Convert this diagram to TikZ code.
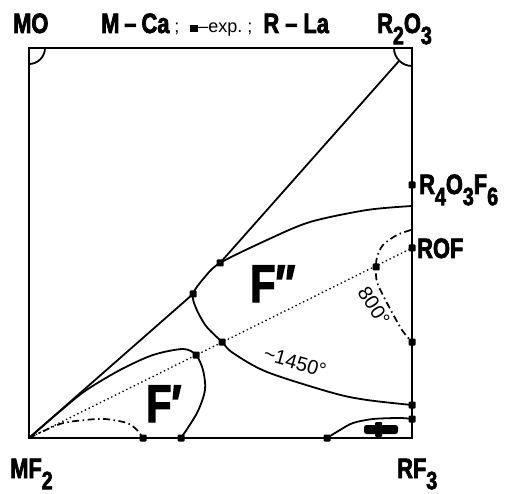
\documentclass[tikz,border=0pt]{standalone}
\usepackage{fontspec}
\newfontfamily\labfont[FakeStretch=0.78, BoldFeatures={FakeBold=2.5}]{Liberation Sans}
\newfontfamily\numfont{Liberation Sans}
\usetikzlibrary{positioning}
\newcommand\dn[1]{\raisebox{-0.4em}{\scalebox{0.9}{#1}}}

\begin{document}
\begin{tikzpicture}[
    x=1pt, y=-1pt,
    frame/.style={line width=2.3pt},
    bound/.style={line width=1.8pt},
    dashdot/.style={line width=1.7pt, dash pattern=on 7pt off 3.5pt on 1.5pt off 3.5pt},
    tie/.style={line width=1.9pt, line cap=round, dash pattern=on 0pt off 4.2pt},
    pt/.style={fill, rectangle, rounded corners=1pt, minimum size=7pt, inner sep=0pt},
    comp/.style={font=\fontsize{28}{28}\labfont\bfseries, inner sep=0pt, anchor=base west},
    phase/.style={font=\fontsize{53}{53}\labfont\bfseries, inner sep=0pt, anchor=base west},
    temp/.style={font=\fontsize{20}{20}\numfont, inner sep=0pt}
]
\useasboundingbox (0,0) rectangle (506,494);

\coordinate (mo) at (29,48);
\coordinate (r2o3) at (412,48);
\coordinate (rf3) at (412,438);
\coordinate (mf2) at (29,438);
\coordinate (cusp) at (399,61);
\coordinate (r4o3f6) at (412,185);
\coordinate (eup) at (412,206);
\coordinate (e800a) at (411,230);
\coordinate (rof) at (412,248);
\coordinate (e800) at (412,342);
\coordinate (e1450) at (412,405);
\coordinate (erf) at (412,419);
\coordinate (top) at (220,263);
\coordinate (tri) at (193,294);
\coordinate (mid) at (222,342);
\coordinate (fpk) at (196,355);
\coordinate (lo) at (376,267);
\coordinate (b1) at (143,438);
\coordinate (b2) at (181,438);
\coordinate (b3) at (327,438);

\draw[frame] (mo) rectangle (rf3);
\draw[bound] ([xshift=16pt]mo) arc[start angle=0, end angle=-90, radius=16pt];
\draw[bound] ([xshift=-18pt]r2o3) arc[start angle=180, end angle=270, radius=18pt];

\draw[bound] (mf2) -- (tri);
\draw[bound] (top) -- (cusp);
\draw[bound] plot[smooth] coordinates {(eup) (367,210) (310,222) (267,240) (top) (204,278) (tri) (196,308) (206,326) (mid) (233,353) (267,372) (333,393) (367,400) (e1450)};
\draw[bound] plot[smooth] coordinates {(mf2) (58,413) (85,391) (120,370) (153,355) (183,349) (fpk) (203,370) (205,390) (197,413) (b2)};
\draw[bound] plot[smooth] coordinates {(b3) (340,430) (353,423) (373,419) (400,418) (erf)};
\draw[dashdot] plot[smooth] coordinates {(mf2) (60,424) (85,420) (105,419) (127,423) (137,430) (b1)};
\draw[dashdot] plot[smooth] coordinates {(e800a) (397,235) (383,245) (377,257) (lo) (377,282) (387,303) (402,330) (e800)};
\draw[tie] (mf2) -- (rof);

\fill[rounded corners=2.5pt] (364,425) rectangle (398,434);
\fill[rounded corners=1pt] (375,422) rectangle (382,437);

\foreach \p in {r4o3f6, rof, top, tri, mid, fpk, lo, e800, e1450, erf, b1, b2, b3}
    \node[pt] at (\p) {};

\node[comp] (lmo) at (13,33) {MO};
\node[comp] (title) at (101,33) {M\hspace{5pt}–\hspace{5pt}Ca{\fontsize{18}{18}\numfont\mdseries\hspace{5pt};\hspace{11pt}\rule[1pt]{8pt}{7pt}–exp.\hspace{5pt};\hspace{11pt}}R\hspace{6pt}–\hspace{6pt}La};
\node[comp] (lr2o3) at (377,33) {R\dn{2}O\dn{3}};
\node[comp] (lr4o3f6) at (419,194) {R\dn{4}O\dn{3}F\dn{6}};
\node[comp] (lrof) at (417,258) {ROF};
\node[comp] (lmf2) at (10,478) {MF\dn{2}};
\node[comp] (lrf3) at (397,478) {RF\dn{3}};

\node[phase] (fpp) at (250,302) {F″};
\node[phase] (fp) at (146,422) {F′};
\node[temp, rotate=-16] (t1450) at (295,362) {\textasciitilde1450°};
\node[temp, rotate=-57] (t800) at (374,306) {800°};
\end{tikzpicture}
\end{document}
